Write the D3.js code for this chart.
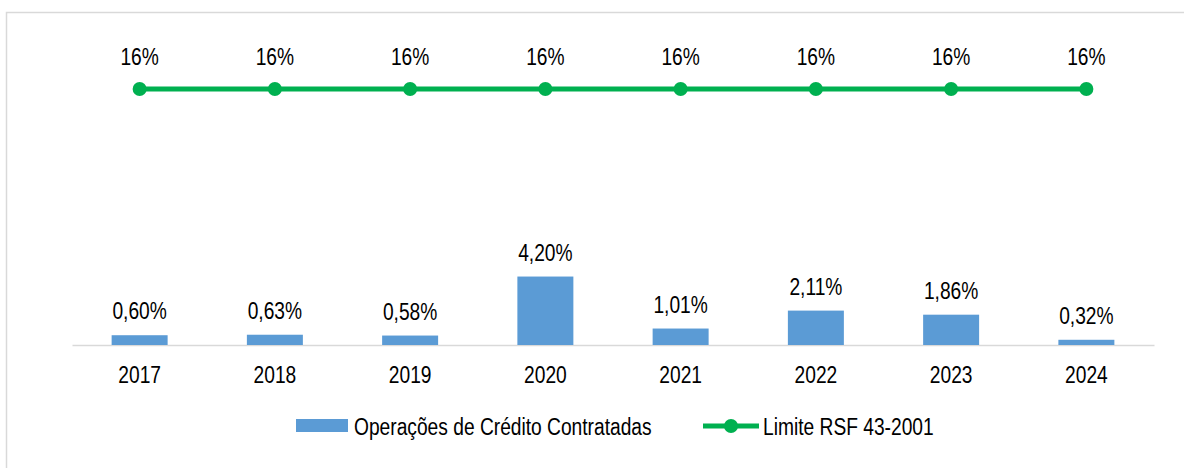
<!DOCTYPE html>
<html>
<head>
<meta charset="utf-8">
<script src="https://cdn.jsdelivr.net/npm/d3@7"></script>
<style>
  body { margin: 0; background: #fff; }
  text { font-family: "Liberation Sans", Arial, sans-serif; fill: #000; }
</style>
</head>
<body>
<svg id="chart"></svg>
<script>
// chart data
var years = ['2017', '2018', '2019', '2020', '2021', '2022', '2023', '2024'];
var operacoes = [0.60, 0.63, 0.58, 4.20, 1.01, 2.11, 1.86, 0.32];
var limite = [16, 16, 16, 16, 16, 16, 16, 16];
var seriesNames = ['Operações de Crédito Contratadas', 'Limite RSF 43-2001'];

var width = 1184, height = 468;
var barColor = '#5b9bd5', lineColor = '#00b050';
var fontSize = 23, squeeze = 0.835;

var svg = d3.select('#chart')
	.attr('width', width)
	.attr('height', height);

function fmt(v) {
	return v.toFixed(2).replace('.', ',') + '%';
}

// narrow text, like the original
function label(g, x, y, txt, anchor) {
	return g.append('text')
		.attr('transform', 'translate(' + x + ',' + y + ') scale(' + squeeze + ',1)')
		.attr('text-anchor', anchor || 'middle')
		.style('font-size', fontSize + 'px')
		.text(txt);
}

// frame
svg.append('path')
	.attr('d', 'M6.5,' + height + ' V12.5 H' + width)
	.attr('fill', 'none')
	.attr('stroke', '#d9d9d9')
	.attr('stroke-width', 1.5);

// scales
var xScale = d3.scaleBand()
	.domain(years)
	.range([72, 1154])
	.paddingInner(0.586)
	.paddingOuter(0.293);

var yBar = d3.scaleLinear()
	.domain([0, 20])
	.range([345, 19]);

var yLine = d3.scaleLinear()
	.domain([0, 16])
	.range([345, 89]);

// baseline axis
var xAxis = d3.axisBottom(xScale).tickSize(0).tickFormat('');
var axisG = svg.append('g')
	.attr('transform', 'translate(0,' + yBar(0) + ')')
	.call(xAxis);
axisG.select('.domain').attr('stroke', '#d9d9d9').attr('stroke-width', 1.5);

// year labels
var labels = svg.append('g');
years.forEach(function(y) {
	label(labels, xScale(y) + xScale.bandwidth() / 2, 383, y);
});

// bars
svg.append('g').selectAll('rect').data(operacoes)
	.enter()
	.append('rect')
	.attr('x', function(d, i) { return xScale(years[i]); })
	.attr('width', xScale.bandwidth())
	.attr('y', function(d) { return yBar(d); })
	.attr('height', function(d) { return yBar(0) - yBar(d); })
	.attr('fill', barColor);

operacoes.forEach(function(d, i) {
	label(labels, xScale(years[i]) + xScale.bandwidth() / 2, yBar(d) - 16, fmt(d));
});

// limit line
var cx = function(d, i) { return xScale(years[i]) + xScale.bandwidth() / 2; };
var line = d3.line()
	.x(cx)
	.y(function(d) { return yLine(d); });

svg.append('path')
	.datum(limite)
	.attr('d', line)
	.attr('fill', 'none')
	.attr('stroke', lineColor)
	.attr('stroke-width', 5);

svg.append('g').selectAll('circle').data(limite)
	.enter()
	.append('circle')
	.attr('cx', cx)
	.attr('cy', function(d) { return yLine(d); })
	.attr('r', 7)
	.attr('fill', lineColor);

limite.forEach(function(d, i) {
	label(labels, cx(d, i), yLine(d) - 24, d + '%');
});

// legend
var legend = svg.append('g');
legend.append('rect')
	.attr('x', 296).attr('y', 419)
	.attr('width', 52).attr('height', 13)
	.attr('fill', barColor);
label(legend, 354, 435, seriesNames[0], 'start');

legend.append('line')
	.attr('x1', 703).attr('x2', 759)
	.attr('y1', 426).attr('y2', 426)
	.attr('stroke', lineColor)
	.attr('stroke-width', 5);
legend.append('circle')
	.attr('cx', 731).attr('cy', 426).attr('r', 7)
	.attr('fill', lineColor);
label(legend, 763, 435, seriesNames[1], 'start');
</script>
</body>
</html>
